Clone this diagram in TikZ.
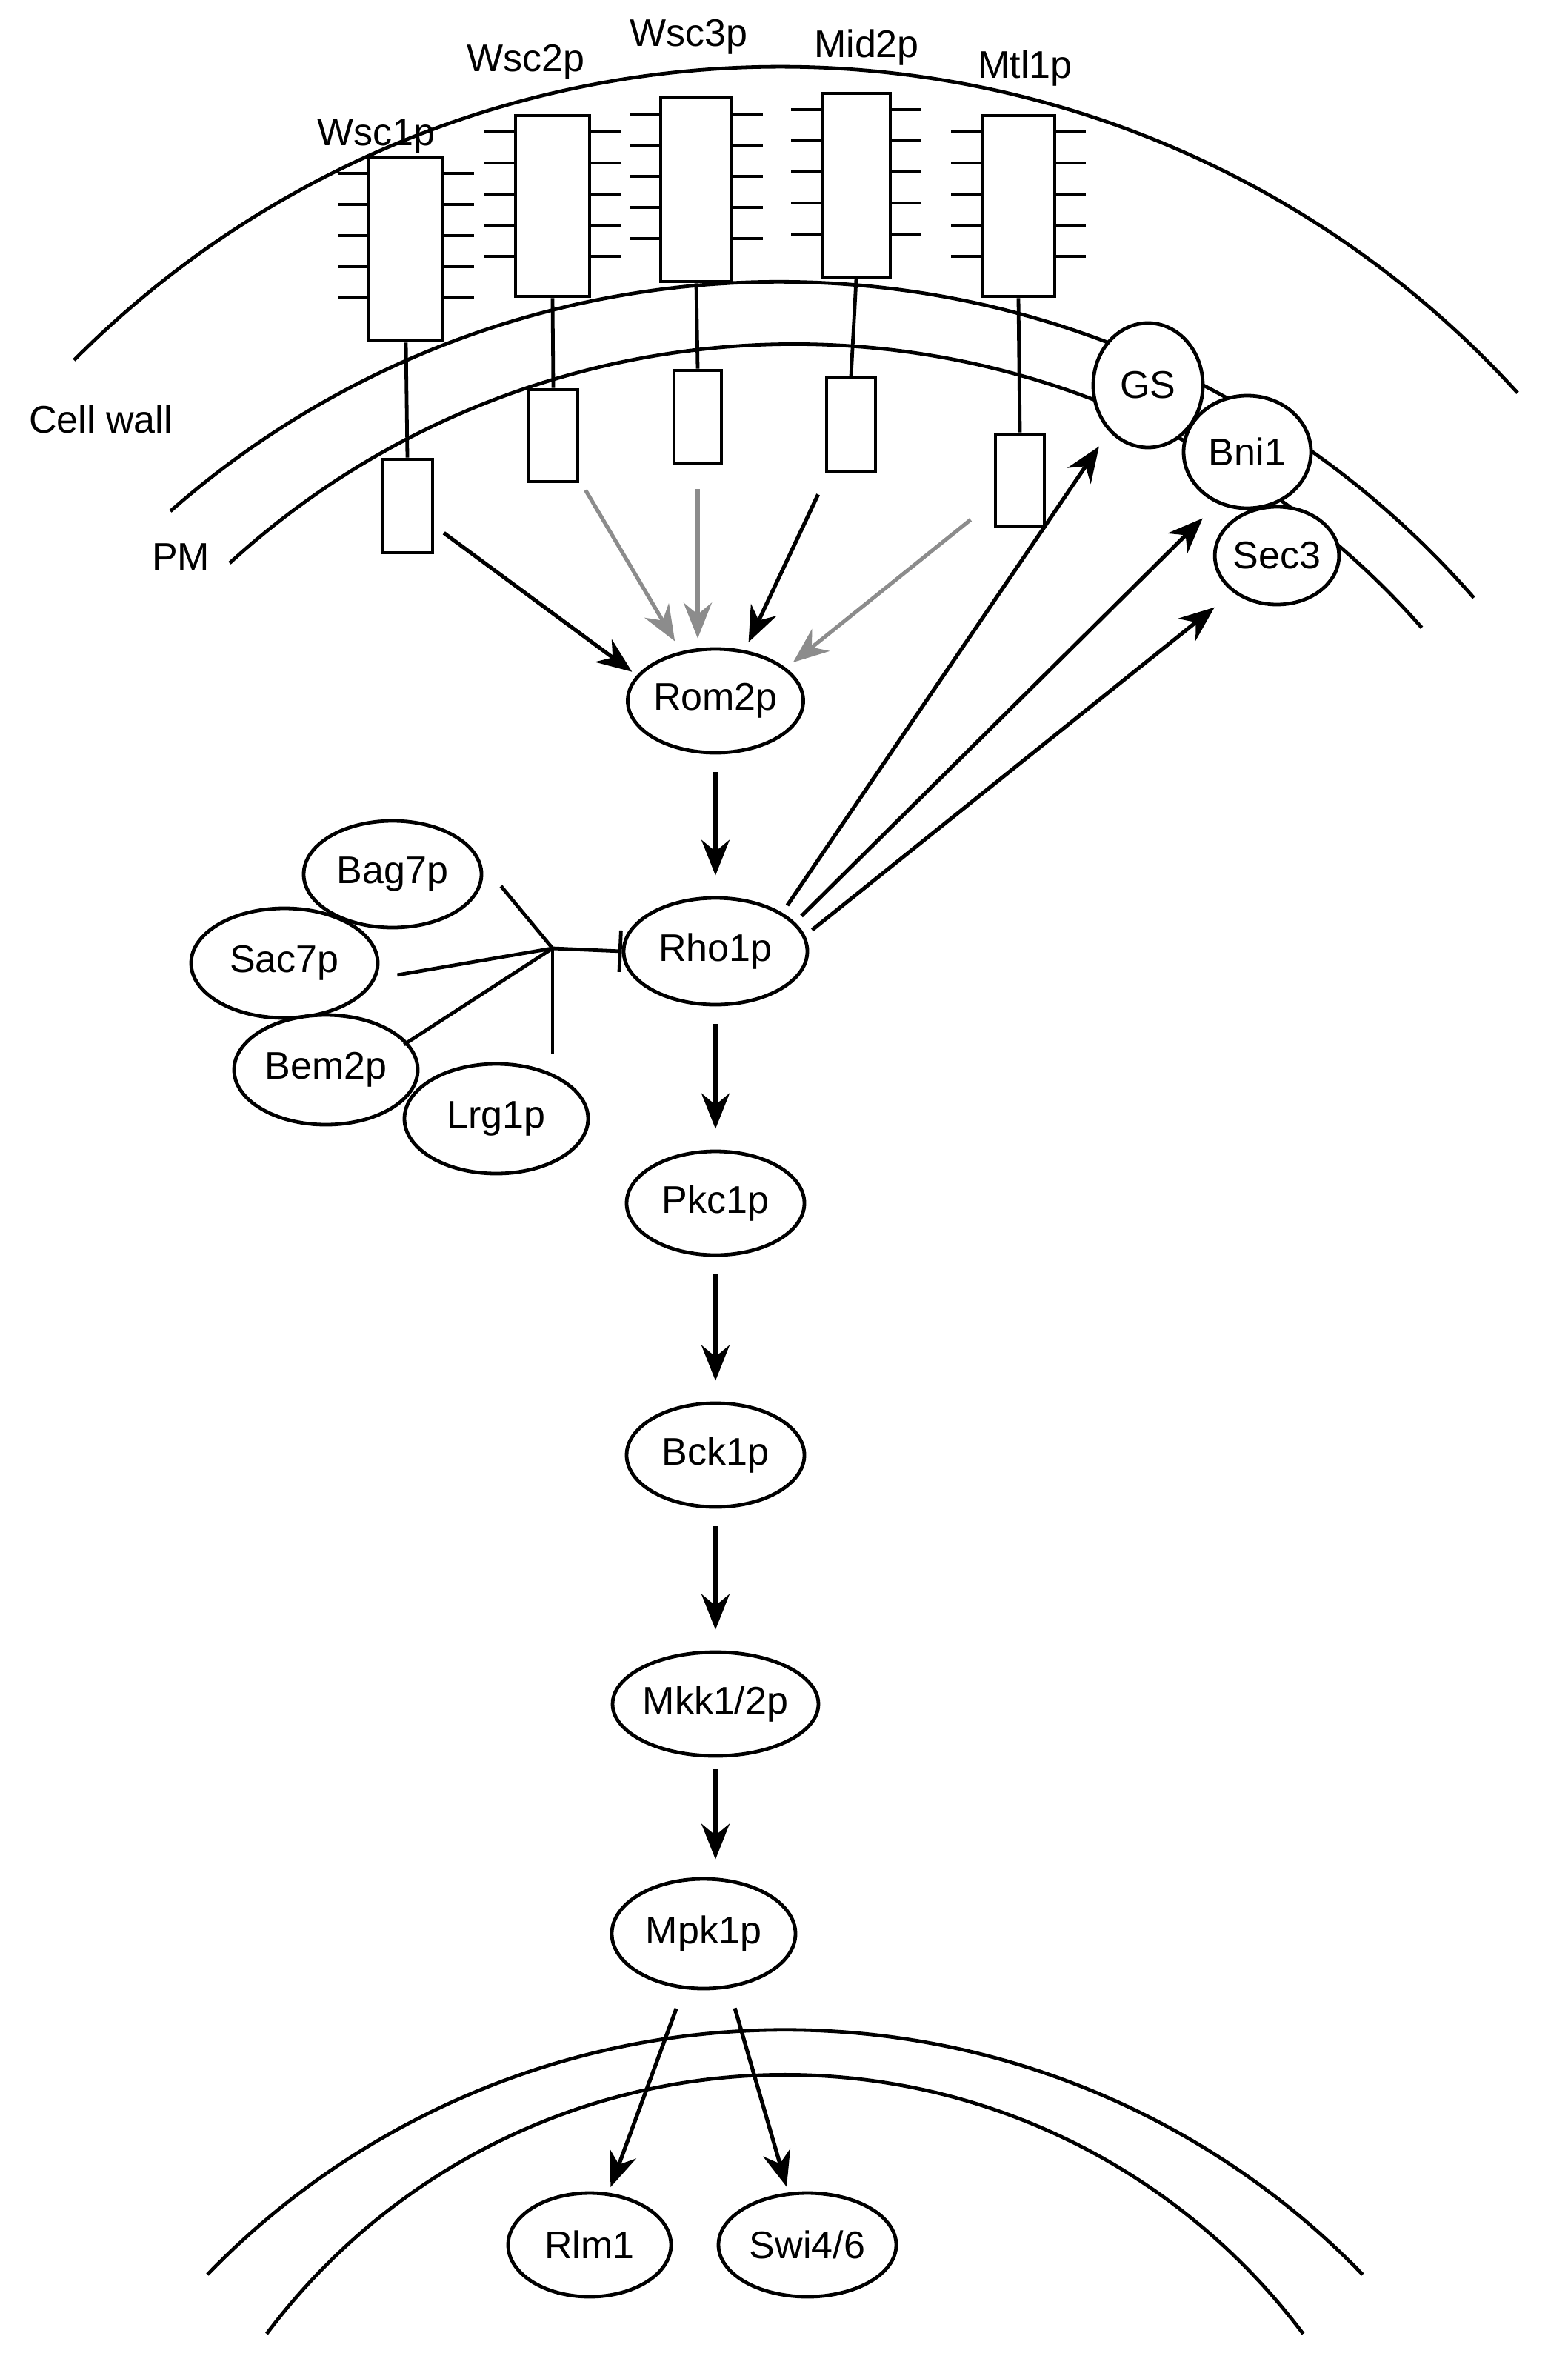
\documentclass[tikz,border=0pt]{standalone}
\usepackage{fontspec}
\setmainfont{Liberation Sans}
\usetikzlibrary{arrows.meta,shapes.geometric}
\begin{document}
\begin{tikzpicture}[x=1pt,y=-1pt,line width=2.4pt,
  every node/.style={font=\fontsize{26}{30}\selectfont},
  prot/.style={draw,ellipse,fill=white,inner sep=0,line width=2.4pt},
  rbox/.style={draw,fill=white,inner sep=0,line width=2.4pt},
  arr/.style={-{Stealth[length=24pt,width=19pt]},line width=2.6pt},
  garr/.style={arr,draw=black!45},
  lab/.style={inner sep=0}]
\useasboundingbox (0,0) rectangle (1058,1590);
% membranes
\draw (50,243) arc[start angle=224.9,end angle=317.7,radius=673];
\draw (115,345) arc[start angle=228.7,end angle=318.9,radius=622.5];
\draw (155,380) arc[start angle=227.6,end angle=318.6,radius=565];
\draw (140,1535) arc[start angle=224.1,end angle=315.9,radius=543];
\draw (180,1575) arc[start angle=216.9,end angle=323.1,radius=437.5];
\node[lab] (cw) at (68,283) {Cell wall};
\node[lab] (pm) at (122,376) {PM};
% receptors
\foreach \n/\xl/\xr/\yt/\yb/\yo/\sl/\sr/\st/\sb/\lx/\ly/\txt in {
  a/249/299/106/230/117/258/292/310/373/254/92/Wsc1p,
  b/348/398/78/200/89/357/390/263/325/355/42/Wsc2p,
  c/446/494/66/190/77/455/487/250/313/465/25/Wsc3p,
  d/555/601/63/187/74/558/591/255/318/585/32/Mid2p,
  e/663/712/78/200/89/672/705/293/355/692/46/Mtl1p}{
  \foreach \k in {0,...,4}{
    \draw (\xl-21,\yo+21*\k) -- (\xr+21,\yo+21*\k);}
  \node[rbox,minimum width={(\xr-\xl)*1pt},minimum height={(\yb-\yt)*1pt}] (big\n) at ({(\xl+\xr)/2},{(\yt+\yb)/2}) {};
  \node[rbox,minimum width={(\sr-\sl)*1pt},minimum height={(\sb-\st)*1pt}] (small\n) at ({(\sl+\sr)/2},{(\st+\sb)/2}) {};
  \draw (big\n.south) -- (small\n.north);
  \node[lab] (lab\n) at (\lx,\ly) {\txt};
}
% proteins
\node[prot,minimum width=116pt,minimum height=70pt] (rom) at (483,473) {Rom2p};
\node[prot,minimum width=124pt,minimum height=72pt] (rho) at (483,642) {Rho1p};
\node[prot,minimum width=120pt,minimum height=70pt] (pkc) at (483,812) {Pkc1p};
\node[prot,minimum width=120pt,minimum height=70pt] (bck) at (483,982) {Bck1p};
\node[prot,minimum width=126pt,minimum height=70pt] (mkk) at (483,1150) {Mkk1/2p};
\node[prot,minimum width=124pt,minimum height=74pt] (mpk) at (475,1305) {Mpk1p};
\node[prot,minimum width=110pt,minimum height=70pt] (rlm) at (398,1515) {Rlm1};
\node[prot,minimum width=120pt,minimum height=70pt] (swi) at (545,1515) {Swi4/6};
\node[prot,minimum width=74pt,minimum height=84pt] (gs) at (775,260) {GS};
\node[prot,minimum width=86pt,minimum height=76pt] (bni) at (842,305) {Bni1};
\node[prot,minimum width=76pt,minimum height=66pt] (sec) at (862,375) {Sec3};
\node[prot,minimum width=120pt,minimum height=72pt] (bag) at (265,590) {Bag7p};
\node[prot,minimum width=126pt,minimum height=74pt] (sac) at (192,650) {Sac7p};
\node[prot,minimum width=124pt,minimum height=74pt] (bem) at (220,722) {Bem2p};
\node[prot,minimum width=124pt,minimum height=74pt] (lrg) at (335,755) {Lrg1p};
% receptor arrows
\draw[arr,shorten <=8pt,shorten >=4pt] (smalla) -- (rom.162);
\draw[garr,shorten <=8pt,shorten >=8pt] (smallb) -- (rom.125);
\draw[garr,shorten <=16pt,shorten >=6pt] (smallc) -- (rom.north -| smallc);
\draw[arr,shorten <=16pt,shorten >=6pt] (smalld) -- (rom.60);
\draw[garr,shorten <=20pt,shorten >=6pt] (smalle) -- (rom.25);
% cascade
\foreach \p/\q in {rom/rho,rho/pkc,pkc/bck,bck/mkk}
  \draw[arr,shorten <=12pt,shorten >=14pt] (\p) -- (\q);
\draw[arr,shorten <=8pt,shorten >=12pt] (mkk) -- (mkk|-mpk.north);
\draw[arr,shorten <=14pt,shorten >=4pt] (mpk.250) -- (rlm.70);
\draw[arr,shorten <=14pt,shorten >=4pt] (mpk.295) -- (swi.110);
% Rho1p effectors
\draw[arr,shorten <=6pt,shorten >=12pt] (rho.30) -- (gs.230);
\draw[arr,shorten <=6pt,shorten >=14pt] (rho.20) -- (bni.240);
\draw[arr,shorten <=6pt,shorten >=16pt] (rho.10) -- (sec.220);
% GAP inhibition
\coordinate (hub) at (373,640);
\draw (bag.east) ++(12,8) -- (hub);
\draw (sac.east) ++(12,8) -- (hub);
\draw (bem.north east) ++(8,10) -- (hub);
\draw (lrg.north) ++(38,-6) -- (hub);
\draw[-{Bar[width=28pt]}] (hub) -- (rho.west);
\end{tikzpicture}
\end{document}
